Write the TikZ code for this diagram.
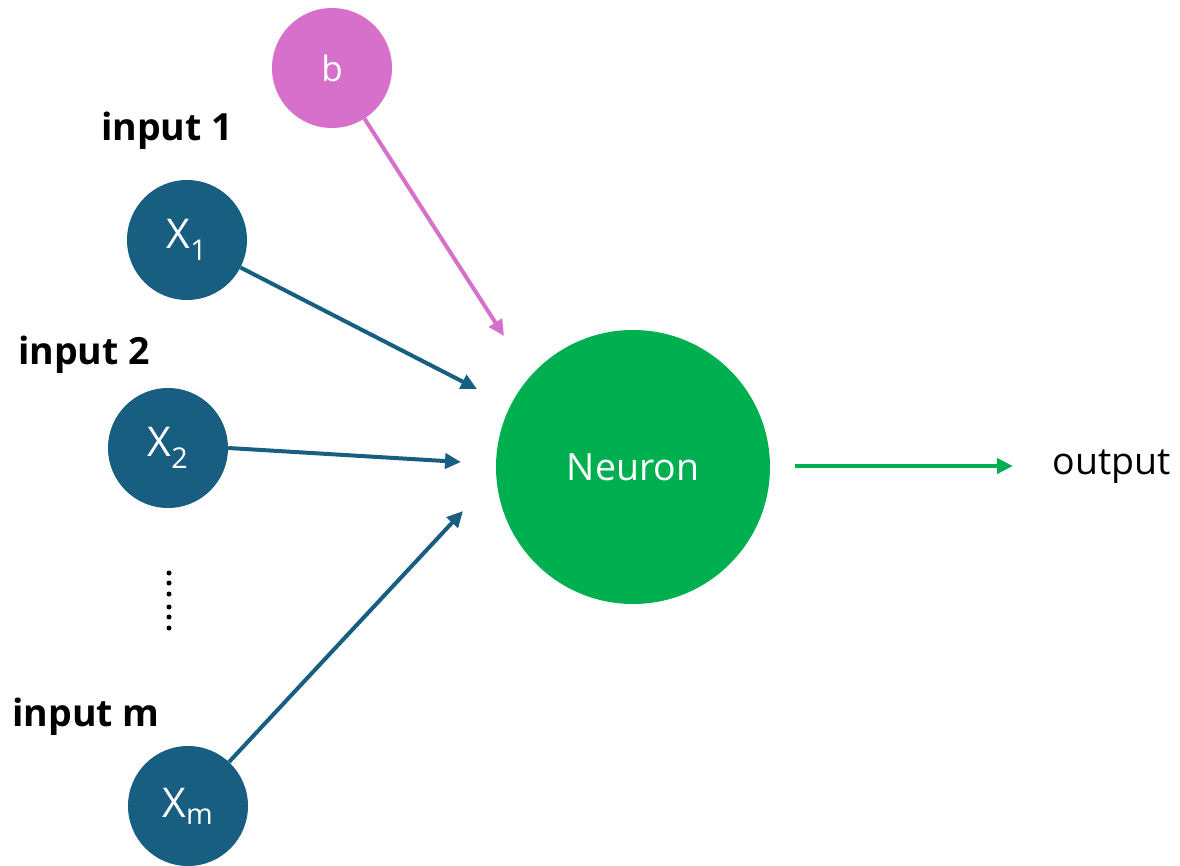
\documentclass[tikz,border=0pt]{standalone}
\usepackage{fontspec}
\setmainfont{Open Sans}
\usetikzlibrary{arrows.meta}
\definecolor{teal}{HTML}{175E80}
\definecolor{pink}{HTML}{D670CA}
\definecolor{green}{HTML}{00B050}
\tikzset{
  inp/.style={circle,fill=teal,minimum size=120pt,inner sep=0pt,text=white,font=\fontsize{41}{48}\selectfont},
  bias/.style={circle,fill=pink,minimum size=120pt,inner sep=0pt,text=white,font=\fontsize{35}{42}\selectfont},
  neuron/.style={circle,fill=green,minimum size=274pt,inner sep=0pt,text=white,font=\fontsize{37.5}{44}\selectfont},
  lbl/.style={font=\fontsize{37.5}{44}\selectfont\bfseries,text=black},
  outlbl/.style={font=\fontsize{37.5}{44}\selectfont,text=black},
  conn/.style={line width=4pt,-{Triangle[length=16pt,width=15pt]}},
  dot/.style={circle,fill=black,minimum size=5pt,inner sep=0pt},
}
\begin{document}
\begin{tikzpicture}[x=1pt,y=-1pt]
\useasboundingbox (0,0) rectangle (1180,866);
\node[bias] (b) at (332,68) {b};
\node[inp] (x1) at (187,240) {X\textsubscript{1}};
\node[inp] (x2) at (168,448) {X\textsubscript{2}};
\node[inp] (xm) at (188,806) {X\textsubscript{m}};
\node[neuron] (n) at (633,467) {Neuron};
\node[lbl] (l1) at (167,131) {input 1};
\node[lbl] (l2) at (84,355) {input 2};
\node[lbl] (lm) at (86,717) {input m};
\node[outlbl] (out) at (1112,467) {output};
\foreach \i/\y in {1/573,2/583,3/594,4/607,5/617,6/628}
  \node[dot] (d\i) at (169,\y) {};
\coordinate (eb) at (504,336);
\coordinate (e1) at (477,389);
\coordinate (e2) at (461,462);
\coordinate (em) at (463,511);
\coordinate (os) at (795,466);
\coordinate (oe) at (1013,466);
\draw[conn,draw=pink,fill=pink] (b) -- (eb);
\draw[conn,draw=teal,fill=teal] (x1) -- (e1);
\draw[conn,draw=teal,fill=teal] (x2.east) -- (e2);
\draw[conn,draw=teal,fill=teal] (xm) -- (em);
\draw[conn,draw=green,fill=green] (os) -- (oe);
\end{tikzpicture}
\end{document}
